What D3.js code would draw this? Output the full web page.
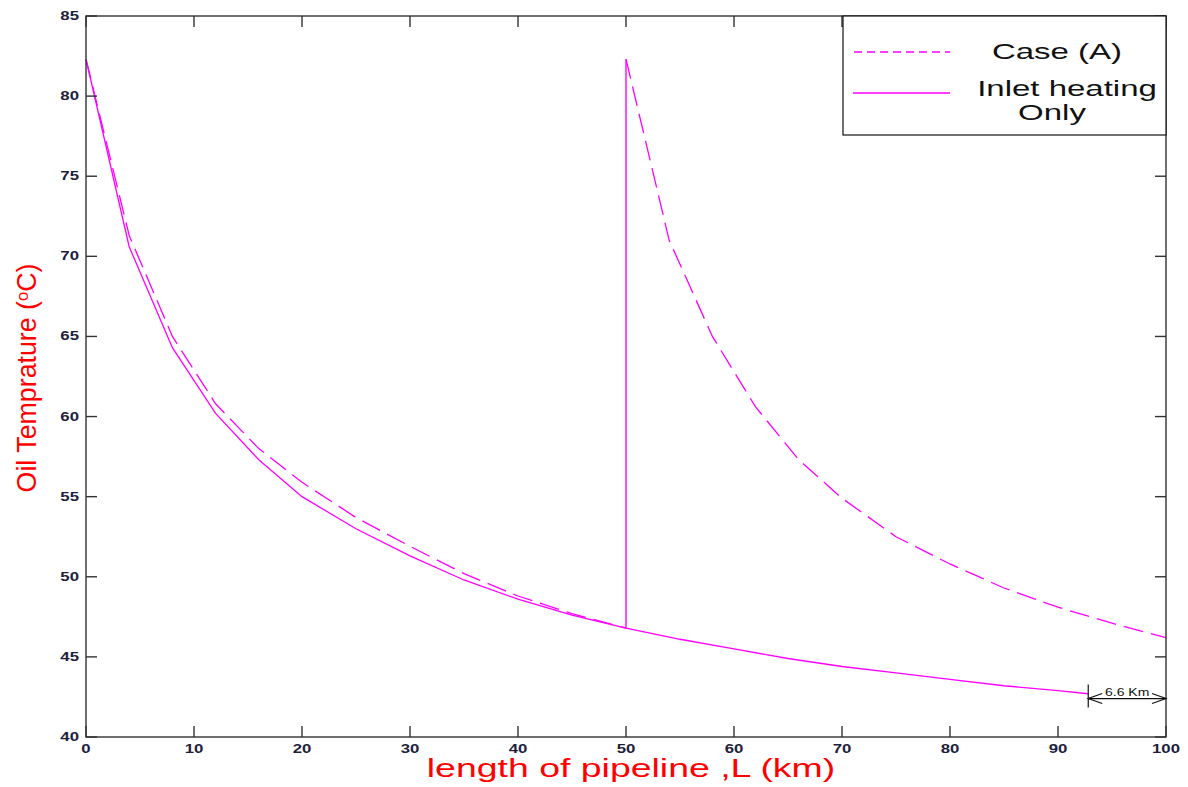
<!DOCTYPE html>
<html><head><meta charset="utf-8">
<script src="https://cdn.jsdelivr.net/npm/d3@7"></script>
<style>body{margin:0;background:#fff}svg{display:block}</style>
</head><body>
<script>
// ---- data ----
const xTicks = [0,10,20,30,40,50,60,70,80,90,100];
const yTicks = [40,45,50,55,60,65,70,75,80,85];
const caseA_left_x = [0,4,8,12,16,20,25,30,35,40,45,50];
const caseA_left_y = [82.3,71.3,65.0,60.8,58.0,55.9,53.7,51.9,50.2,48.8,47.7,46.8];
const caseA_right_x = [50,54,58,62,66,70,75,80,85,90,95,100];
const caseA_right_y = [82.3,71.0,65.0,60.6,57.3,54.9,52.5,50.8,49.3,48.1,47.1,46.2];
const jump_x = [50,50];
const jump_y = [46.8,82.3];
const inlet_x = [0,4,8,12,16,20,25,30,35,40,45,50,55,60,65,70,75,80,85,90,92.8];
const inlet_y = [82.3,70.6,64.3,60.2,57.3,55.0,53.0,51.3,49.8,48.6,47.6,46.8,46.1,45.5,44.9,44.4,44.0,43.6,43.2,42.9,42.7];
const seriesNames = ["Case (A)", "Inlet heating", "Only"];
const annotation = {from: 92.8, to: 100, y: 42.4, label: "6.6 Km"};

const W=1188,H=787;
const m={l:86,r:22,t:16,b:50};
const svg=d3.select("body").append("svg").attr("width",W).attr("height",H);
const x=d3.scaleLinear().domain([0,100]).range([m.l,W-m.r]);
const y=d3.scaleLinear().domain([40,85]).range([H-m.b,m.t]);
const font="Liberation Sans, Arial, sans-serif";
const axCol="#333";
const mag="#ff00ff";

function txt(parent,px,py,str,size,anchor,fill,weight,sx){
  return parent.append("text")
    .attr("transform",`translate(${px},${py}) scale(${sx||1.4},1)`)
    .attr("text-anchor",anchor).attr("font-family",font).attr("font-size",size)
    .attr("font-weight",weight||"normal").attr("fill",fill).text(str);
}

// plot lines
const line=d3.line().x(d=>x(d[0])).y(d=>y(d[1]));
const z=(a,b)=>a.map((v,i)=>[v,b[i]]);
const g=svg.append("g");
g.append("path").datum(z(caseA_left_x,caseA_left_y)).attr("d",line)
 .attr("fill","none").attr("stroke",mag).attr("stroke-width",1.3).attr("stroke-dasharray","20,8");
g.append("path").datum(z(caseA_right_x,caseA_right_y)).attr("d",line)
 .attr("fill","none").attr("stroke",mag).attr("stroke-width",1.3).attr("stroke-dasharray","20,8");
g.append("path").datum(z(jump_x,jump_y)).attr("d",line)
 .attr("fill","none").attr("stroke",mag).attr("stroke-width",1.4);
g.append("path").datum(z(inlet_x,inlet_y)).attr("d",line)
 .attr("fill","none").attr("stroke",mag).attr("stroke-width",1.3);

// axes (MATLAB-style: inward ticks, all four sides)
const tl=11;
const ax=svg.append("g").attr("stroke",axCol).attr("stroke-width",1.4).attr("fill","none");
ax.append("rect").attr("x",x(0)).attr("y",y(85)).attr("width",x(100)-x(0)).attr("height",y(40)-y(85));
xTicks.forEach(t=>{
  ax.append("line").attr("x1",x(t)).attr("x2",x(t)).attr("y1",y(40)).attr("y2",y(40)-tl);
  ax.append("line").attr("x1",x(t)).attr("x2",x(t)).attr("y1",y(85)).attr("y2",y(85)+tl);
});
yTicks.forEach(t=>{
  ax.append("line").attr("x1",x(0)).attr("x2",x(0)+tl).attr("y1",y(t)).attr("y2",y(t));
  ax.append("line").attr("x1",x(100)).attr("x2",x(100)-tl).attr("y1",y(t)).attr("y2",y(t));
});
const lab=svg.append("g");
const tc="#1e1e3c";
xTicks.forEach(t=>txt(lab,x(t),y(40)+16,t,12,"middle",tc,"bold"));
yTicks.forEach(t=>txt(lab,x(0)-7,y(t)+4,t,12,"end",tc,"bold"));

// axis titles
txt(svg,631,777,"length of pipeline ,L (km)",26,"middle","#ff0000","normal",1.44);
const yl=svg.append("text").attr("transform","translate(36,378) rotate(-90) scale(1.03,1.05)").attr("text-anchor","middle")
 .attr("font-family",font).attr("font-size",26).attr("fill","#ff0000");
yl.append("tspan").text("Oil Temprature (");
yl.append("tspan").attr("font-size",16).attr("dy",-8).text("o");
yl.append("tspan").attr("dy",8).text("C)");

// legend
const lg=svg.append("g");
lg.append("rect").attr("x",843).attr("y",y(85)).attr("width",x(100)-843).attr("height",119)
 .attr("fill","#fff").attr("stroke","#111").attr("stroke-width",1.2);
lg.append("line").attr("x1",854).attr("x2",950).attr("y1",52).attr("y2",52)
 .attr("stroke",mag).attr("stroke-width",1.3).attr("stroke-dasharray","8,5");
lg.append("line").attr("x1",853).attr("x2",950).attr("y1",93).attr("y2",93)
 .attr("stroke",mag).attr("stroke-width",1.3);
txt(lg,1057,59,seriesNames[0],22,"middle","#111","normal",1.5);
txt(lg,1067,96,seriesNames[1],22,"middle","#111","normal",1.5);
txt(lg,1052,120,seriesNames[2],22,"middle","#111","normal",1.5);

// 6.6 km annotation
const an=svg.append("g").attr("stroke","#111").attr("stroke-width",1.2).attr("fill","none");
const ax1=x(annotation.from), ax2=x(annotation.to), ay=y(annotation.y);
an.append("line").attr("x1",ax1).attr("x2",ax1).attr("y1",ay-14).attr("y2",ay+9);
an.append("line").attr("x1",ax1).attr("x2",ax2).attr("y1",ay).attr("y2",ay);
an.append("path").attr("d",`M${ax1+14},${ay-5}L${ax1},${ay}L${ax1+14},${ay+5}`);
an.append("path").attr("d",`M${ax2-14},${ay-5}L${ax2},${ay}L${ax2-14},${ay+5}`);
txt(svg,(ax1+ax2)/2,ay-3,annotation.label,10,"middle","#111");
</script>
</body></html>
